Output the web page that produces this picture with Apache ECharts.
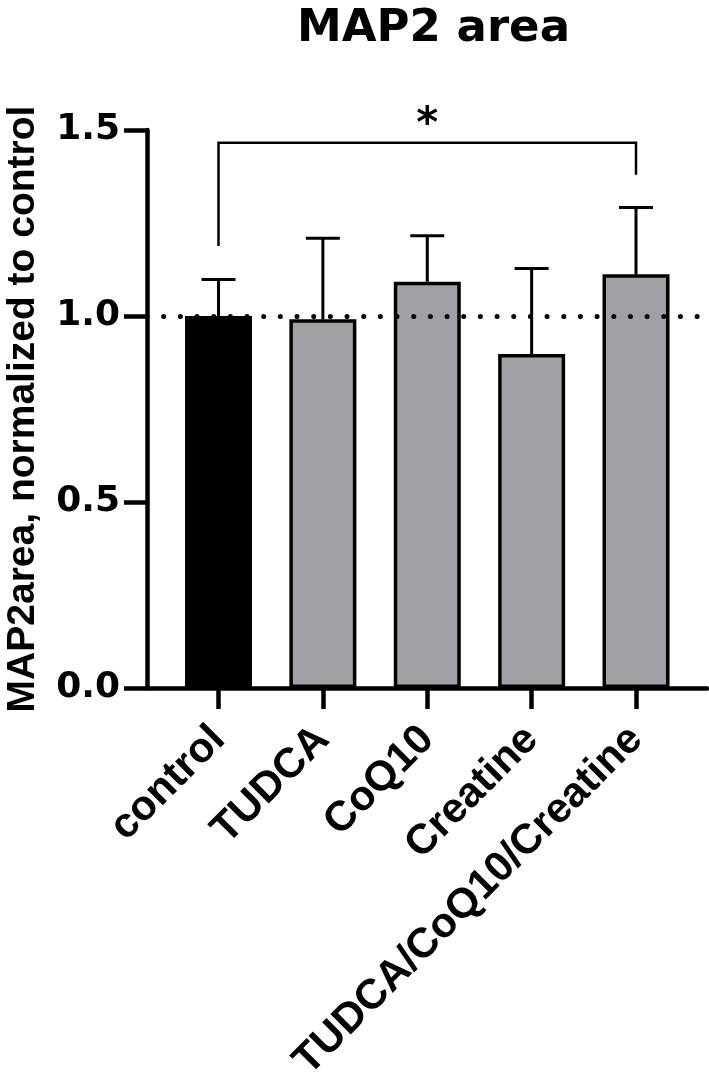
<!DOCTYPE html>
<html>
<head>
<meta charset="utf-8">
<script src="https://cdn.jsdelivr.net/npm/echarts@6/dist/echarts.min.js"></script>
<style>
    html, body { margin: 0; padding: 0; background: #fff; }
    #chart { width: 709px; height: 1079px; }
</style>
</head>
<body>
<div id="chart"></div>
<script>
const groups = ["control", "TUDCA", "CoQ10", "Creatine", "TUDCA/CoQ10/Creatine"];
const means = [1.0, 0.991, 1.092, 0.898, 1.112];
const sems = [0.098, 0.218, 0.124, 0.23, 0.18];
const yTicks = [0, 0.5, 1.0, 1.5];
// significance bracket: from group, to group, bar height, left leg end, right leg end
const bracket = [0, 4, 1.466, 1.188, 1.38];
const starLabel = "*";

const font = "DejaVu Sans";
const arial = "Liberation Sans";
const positions = groups.map((g, i) => i);

document.addEventListener("DOMContentLoaded", () => {
    const chart = echarts.init(document.querySelector("#chart"));
    chart.setOption({
        animation: false,
        title: {
            text: "MAP2 area",
            left: 292,
            top: 2,
            textStyle: { fontFamily: font, fontWeight: "bold", fontSize: 45, color: "#000" },
        },
        grid: { left: 147, right: 2, top: 130, bottom: 391, outerBoundsMode: "none" },
        xAxis: {
            type: "value",
            min: -0.685,
            max: 4.68,
            splitLine: { show: false },
            axisLine: { lineStyle: { color: "#000", width: 4.5 } },
            axisTick: {
                customValues: positions,
                length: 21,
                lineStyle: { color: "#000", width: 4.5 },
            },
            axisLabel: {
                customValues: positions,
                formatter: (v) => groups[Math.round(v)],
                rotate: 45,
                margin: 45,
                color: "#000",
                fontFamily: arial,
                fontWeight: "bold",
                fontSize: 42,
            },
        },
        yAxis: {
            type: "value",
            min: 0,
            max: 1.5,
            interval: 0.5,
            name: "MAP2area, normalized to control",
            nameLocation: "middle",
            nameGap: 104,
            nameTextStyle: { fontFamily: arial, fontWeight: "bold", fontSize: 39, color: "#000" },
            splitLine: { show: false },
            axisLine: { show: true, onZero: false, lineStyle: { color: "#000", width: 4.5 } },
            axisTick: { show: true, length: 23, lineStyle: { color: "#000", width: 4.5 } },
            axisLabel: {
                margin: 27,
                color: "#000",
                fontFamily: font,
                fontWeight: "bold",
                fontSize: 36,
                formatter: (v) => v.toFixed(1),
            },
        },
        series: [
            {
                type: "line",
                data: [],
                z: 1,
                markLine: {
                    silent: true,
                    symbol: "none",
                    label: { show: false },
                    lineStyle: { color: "#000", width: 5, type: [0, 16.67], cap: "round" },
                    data: [{ yAxis: 1 }],
                },
            },
            {
                type: "bar",
                z: 2,
                barWidth: 67,
                data: means.map((m, i) => ({
                    value: [i, m],
                    itemStyle: { color: i === 0 ? "#000" : "#a1a0a5" },
                })),
                itemStyle: { borderColor: "#000", borderWidth: 3.5 },
            },
            {
                type: "custom",
                z: 3,
                clip: false,
                data: means.map((m, i) => [i, m, m + sems[i]]),
                renderItem: (params, api) => {
                    const x = api.value(0);
                    const p0 = api.coord([x, api.value(1)]);
                    const p1 = api.coord([x, api.value(2)]);
                    const hw = 17;
                    const st = { stroke: "#000", lineWidth: 3 };
                    return {
                        type: "group",
                        children: [
                            { type: "line", shape: { x1: p0[0], y1: p0[1], x2: p1[0], y2: p1[1] }, style: st },
                            { type: "line", shape: { x1: p1[0] - hw, y1: p1[1], x2: p1[0] + hw, y2: p1[1] }, style: st },
                        ],
                    };
                },
            },
            {
                type: "custom",
                z: 3,
                clip: false,
                data: [bracket],
                renderItem: (params, api) => {
                    const a = api.coord([api.value(0), api.value(2)]);
                    const b = api.coord([api.value(1), api.value(2)]);
                    const aEnd = api.coord([api.value(0), api.value(3)]);
                    const bEnd = api.coord([api.value(1), api.value(4)]);
                    return {
                        type: "group",
                        children: [
                            {
                                type: "polyline",
                                shape: { points: [aEnd, a, b, bEnd] },
                                style: { stroke: "#000", lineWidth: 2.5, fill: null },
                            },
                            {
                                type: "text",
                                x: (a[0] + b[0]) / 2,
                                y: a[1] + 4,
                                style: {
                                    text: starLabel,
                                    fontFamily: font,
                                    fontWeight: "bold",
                                    fontSize: 42,
                                    fill: "#000",
                                    align: "center",
                                    verticalAlign: "bottom",
                                },
                            },
                        ],
                    };
                },
            },
        ],
    });
});
</script>
</body>
</html>
